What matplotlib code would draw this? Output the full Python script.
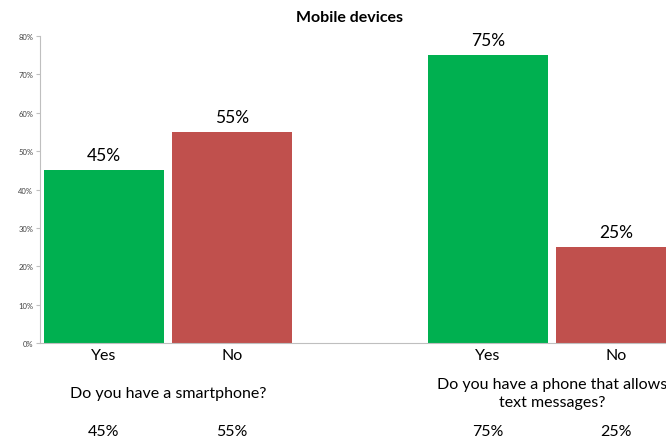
import matplotlib.pyplot as plt
from matplotlib.transforms import blended_transform_factory, offset_copy

plt.rcParams['font.family'] = ['Lato', 'DejaVu Sans']

# Data
answers = ['Yes', 'No', 'Yes', 'No']
values = [45, 55, 75, 25]
positions = [0, 1, 3, 4]
questions = ['Do you have a smartphone?', 'Do you have a phone that allows\ntext messages?']
question_pos = [0.5, 3.5]
colors = ['#00B050', '#C0504D', '#00B050', '#C0504D']

fig = plt.figure(figsize=(6.66, 4.39), dpi=100)
ax = fig.add_axes([40 / 666, 95 / 439, 640 / 666, 307 / 439])

ax.bar(positions, values, width=0.94, color=colors, edgecolor='none')
ax.set_xlim(-0.5, 4.5)
ax.set_ylim(0, 80)
ax.set_yticks(range(0, 81, 10))
ax.set_yticklabels(['%d%%' % v for v in range(0, 81, 10)], fontsize=5.5, color='#404040')
ax.set_xticks([])

for s in ['top', 'right']:
    ax.spines[s].set_visible(False)
ax.spines['left'].set_color('#BFBFBF')
ax.spines['bottom'].set_color('#BFBFBF')
ax.tick_params(axis='y', length=3, color='#BFBFBF', pad=2)

# value labels above bars
for x, v in zip(positions, values):
    ax.annotate('%d%%' % v, (x, v), xytext=(0, 5), textcoords='offset points',
                ha='center', va='bottom', fontsize=12.5)

trans = blended_transform_factory(ax.transData, ax.transAxes)
for x, a, v in zip(positions, answers, values):
    ax.text(x, 0, a, transform=offset_copy(trans, fig=fig, y=-12, units='dots'),
            ha='center', va='center', fontsize=11.5)
    ax.text(x, 0, '%d%%' % v, transform=offset_copy(trans, fig=fig, y=-88, units='dots'),
            ha='center', va='center', fontsize=11.5)
for x, q in zip(question_pos, questions):
    ax.text(x, 0, q, transform=offset_copy(trans, fig=fig, y=-50, units='dots'),
            ha='center', va='center', fontsize=11.5, linespacing=1.3)

fig.text(349 / 666, 1 - 18 / 439, 'Mobile devices', ha='center', va='center',
         fontsize=11.5, fontweight='bold')

fig.savefig('out.png', dpi=100)
